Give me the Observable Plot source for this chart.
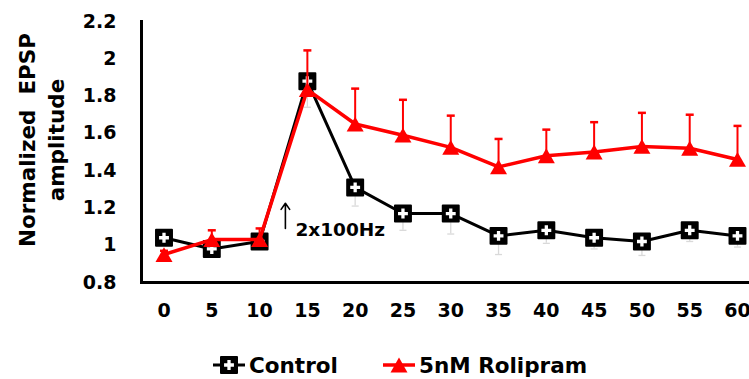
<!DOCTYPE html>
<html><head><meta charset="utf-8">
<script src="https://cdn.jsdelivr.net/npm/d3@7"></script>
<script src="https://cdn.jsdelivr.net/npm/@observablehq/plot@0.6"></script>
<style>
body{margin:0;background:#fff;}
#chart svg{display:block;}
</style></head>
<body><div id="chart"></div><div id="legend"></div>
<script>
const times = [0, 5, 10, 15, 20, 25, 30, 35, 40, 45, 50, 55, 60];
const control = [1.04, 0.98, 1.02, 1.88, 1.31, 1.17, 1.17, 1.05, 1.08, 1.04, 1.02, 1.08, 1.05];
const controlErr = [0.03, 0.03, 0.03, 0.14, 0.10, 0.09, 0.11, 0.10, 0.07, 0.06, 0.075, 0.06, 0.06];
const rolipram = [0.95, 1.03, 1.03, 1.835, 1.65, 1.59, 1.525, 1.42, 1.48, 1.50, 1.53, 1.52, 1.46];
const rolipramErr = [0.02, 0.05, 0.06, 0.21, 0.19, 0.19, 0.17, 0.15, 0.14, 0.16, 0.18, 0.18, 0.18];
const yTicks = [0.8, 1, 1.2, 1.4, 1.6, 1.8, 2, 2.2];
const yTickLabels = ["0.8", "1", "1.2", "1.4", "1.6", "1.8", "2", "2.2"];
const seriesNames = ["Control", "5nM Rolipram"];
const yLabel = "Normalized  EPSP\namplitude";
const annotText = "2x100Hz";
const annotX = 13.75, annotY = 1.08;
const arrowX = 12.7, arrowY1 = 1.09, arrowY2 = 1.225;

const ctrl = times.map((t, i) => ({t, v: control[i], e: controlErr[i]}));
const rol = times.map((t, i) => ({t, v: rolipram[i], e: rolipramErr[i]}));

const capSym = w => ({draw(ctx) { ctx.moveTo(-w, 0); ctx.lineTo(w, 0); }});
const triSym = {draw(ctx) { const s = 8.5, h = 7.4; ctx.moveTo(0, -h); ctx.lineTo(s, h); ctx.lineTo(-s, h); ctx.closePath(); }};

const chart = Plot.plot({
  width: 749, height: 330,
  marginLeft: 141, marginRight: 0, marginTop: 21, marginBottom: 48,
  style: {fontFamily: "DejaVu Sans", fontWeight: "bold", fontSize: "19px", color: "#000", background: "#fff"},
  x: {domain: [0, 60], range: [163.5, 737]},
  y: {domain: [0.8, 2.2]},
  marks: [
    Plot.ruleX(ctrl, {x: "t", y1: "v", y2: d => d.v - d.e, stroke: "#d9d9d9", strokeWidth: 1.3}),
    Plot.dot(ctrl, {x: "t", y: d => d.v - d.e, symbol: capSym(3.5), stroke: "#d9d9d9", strokeWidth: 1.3, fill: "none"}),
    Plot.line(ctrl, {x: "t", y: "v", stroke: "#000", strokeWidth: 3}),
    Plot.dot(ctrl, {x: "t", y: "v", symbol: "square", r: 9, fill: "#000", stroke: "#000", strokeWidth: 2, strokeLinejoin: "round"}),
    Plot.dot(ctrl, {x: "t", y: "v", symbol: "cross", r: 4.15, fill: "#fff", stroke: "none"}),
    Plot.ruleX(rol, {x: "t", y1: "v", y2: d => d.v + d.e, stroke: "#ff0000", strokeWidth: 2}),
    Plot.dot(rol, {x: "t", y: d => d.v + d.e, symbol: capSym(4), stroke: "#ff0000", strokeWidth: 2.5, fill: "none"}),
    Plot.line(rol, {x: "t", y: "v", stroke: "#ff0000", strokeWidth: 3.5}),
    Plot.dot(rol, {x: "t", y: "v", symbol: triSym, fill: "#ff0000", stroke: "none"}),
    Plot.arrow([{x: arrowX, y1: arrowY1, y2: arrowY2}], {x: "x", y1: "y1", y2: "y2", stroke: "#000", strokeWidth: 1.6, headLength: 7, headAngle: 70}),
    Plot.text([{x: annotX, y: annotY, label: annotText}], {x: "x", y: "y", text: "label", textAnchor: "start", fontSize: 18.5, fill: "#000"}),
    Plot.text([yLabel], {text: d => d, frameAnchor: "left", rotate: -90, dx: -101, dy: -12, fontSize: 21.5, lineHeight: 1.35, textAnchor: "middle", lineAnchor: "middle", fill: "#000"}),
    Plot.axisX({ticks: times, tickSize: 0, tickPadding: 21, fontSize: 19}),
    Plot.axisY({ticks: yTicks, tickSize: 0, tickPadding: 25, fontSize: 19, tickFormat: d => yTickLabels[yTicks.indexOf(d)]}),
    Plot.ruleY([0.8], {stroke: "#000", strokeWidth: 3}),
    Plot.frame({anchor: "left", stroke: "#000", strokeWidth: 3})
  ]
});
document.getElementById("chart").appendChild(chart);

// legend below the chart
const lg = d3.select("#legend").append("svg").attr("width", 749).attr("height", 49)
  .style("display", "block").style("font-family", "DejaVu Sans").style("font-weight", "bold");
const cy = 35;
lg.append("line").attr("x1", 213).attr("x2", 245).attr("y1", cy).attr("y2", cy).attr("stroke", "#000").attr("stroke-width", 3);
lg.append("rect").attr("x", 229 - 8).attr("y", cy - 8).attr("width", 16).attr("height", 16).attr("fill", "#000").attr("stroke", "#000").attr("stroke-width", 2).attr("stroke-linejoin", "round");
lg.append("path").attr("transform", `translate(229,${cy})`).attr("d", d3.symbol(d3.symbolCross, 54)()).attr("fill", "#fff");
lg.append("text").attr("x", 249).attr("y", cy + 8).attr("font-size", 21.5).text(seriesNames[0]);
lg.append("line").attr("x1", 383).attr("x2", 415).attr("y1", cy).attr("y2", cy).attr("stroke", "#ff0000").attr("stroke-width", 3.5);
lg.append("path").attr("transform", `translate(399,${cy})`).attr("d", "M0,-7.4L8.5,7.4L-8.5,7.4Z").attr("fill", "#ff0000");
lg.append("text").attr("x", 419).attr("y", cy + 8).attr("font-size", 21.5).text(seriesNames[1]);
</script>
</body></html>
